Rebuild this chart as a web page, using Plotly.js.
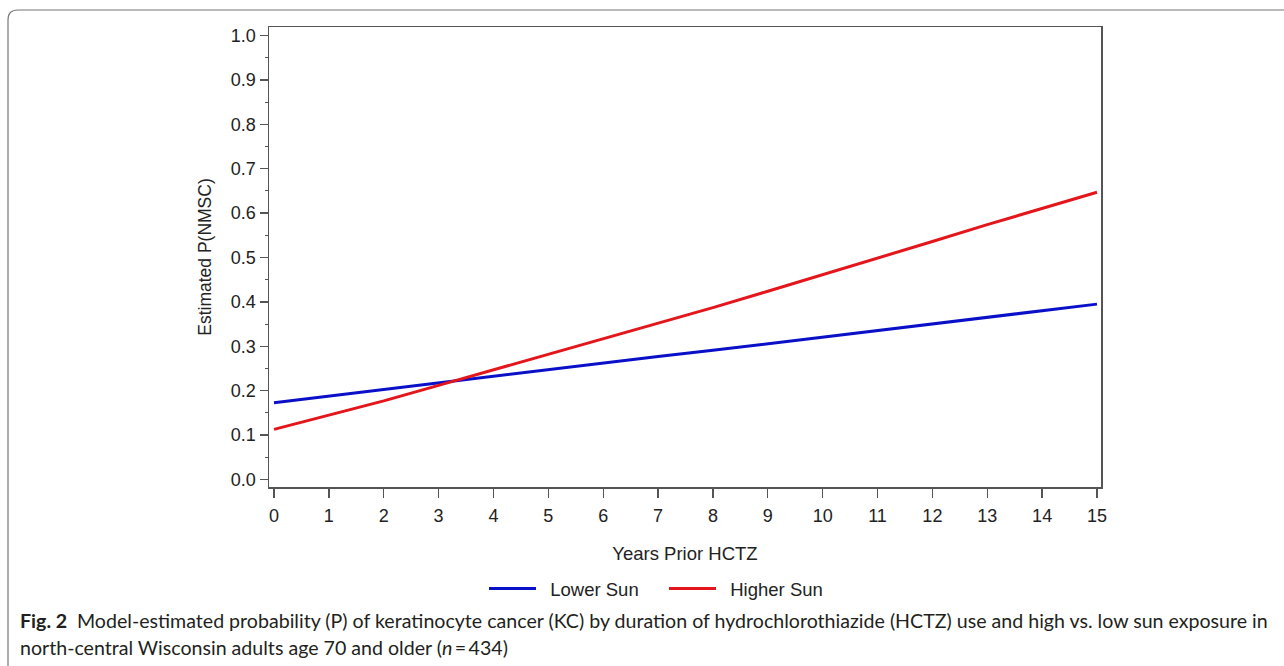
<!DOCTYPE html>
<html>
<head>
<meta charset="utf-8">
<script src="https://cdn.plot.ly/plotly-3.0.1.min.js"></script>
<style>
  html, body { margin: 0; padding: 0; background: #ffffff; }
  #chart { width: 1284px; height: 666px; }
</style>
</head>
<body>
<div id="chart"></div>
<script>
// Data
const years = [0, 1, 2, 3, 4, 5, 6, 7, 8, 9, 10, 11, 12, 13, 14, 15];
const lowerSun = [0.173, 0.188, 0.203, 0.217, 0.232, 0.247, 0.262, 0.277, 0.291, 0.306, 0.321, 0.336, 0.351, 0.365, 0.380, 0.395];
const higherSun = [0.113, 0.145, 0.177, 0.212, 0.247, 0.281, 0.316, 0.351, 0.387, 0.424, 0.461, 0.499, 0.536, 0.574, 0.611, 0.647];
const seriesNames = ['Lower Sun', 'Higher Sun'];
const xTitle = 'Years Prior HCTZ';
const yTitle = 'Estimated P(NMSC)';
const captionBold = 'Fig. 2';
const captionLine1 = 'Model-estimated probability (P) of keratinocyte cancer (KC) by duration of hydrochlorothiazide (HCTZ) use and high vs. low sun exposure in';
const captionLine2 = 'north-central Wisconsin adults age 70 and older (<i>n</i>\u2009=\u2009434)';

// Plot area in pixels
const W = 1284, H = 666;
const L = 269, R = 1101, T = 27, B = 487;
const pw = R - L, ph = B - T;
const px = v => (v - L) / pw;
const py = v => (B - v) / ph;

const textColor = '#222222';
const FAM = 'Liberation Sans, Arial, sans-serif';
const axisFont = { family: FAM, size: 18, color: textColor };

const traces = [
  { x: years, y: lowerSun, name: '\u2002' + seriesNames[0], type: 'scatter', mode: 'lines',
    line: { color: '#0a10c8', width: 3 } },
  { x: years, y: higherSun, name: '\u2002' + seriesNames[1], type: 'scatter', mode: 'lines',
    line: { color: '#e3161b', width: 3 } }
];

// outer rounded frame (decoration)
const fx0 = px(8), fy0 = py(10), fx1 = px(1300), fy1 = py(680);
const rX = 10 / pw, rY = 10 / ph;
const framePath = `M ${fx1},${fy0} L ${fx0 + rX},${fy0} Q ${fx0},${fy0} ${fx0},${fy0 - rY} L ${fx0},${fy1}`;

const layout = {
  width: W, height: H,
  margin: { l: L, r: W - R, t: T, b: H - B, pad: 0 },
  paper_bgcolor: '#ffffff', plot_bgcolor: '#ffffff',
  font: axisFont,
  showlegend: true,
  legend: {
    orientation: 'h', x: px(484), y: py(589), xanchor: 'left', yanchor: 'middle',
    font: { family: FAM, size: 18.5, color: textColor },
    itemwidth: 47, entrywidth: 118, entrywidthmode: 'pixels',
    tracegroupgap: 0, bgcolor: 'rgba(0,0,0,0)'
  },
  xaxis: {
    range: [-0.091, 15.073], tick0: 0, dtick: 1, tickmode: 'linear',
    showgrid: false, zeroline: false,
    showline: true, mirror: true, linecolor: '#555555', linewidth: 1.5,
    ticks: 'outside', ticklen: 9, tickwidth: 1.3, tickcolor: '#555555',
    tickfont: axisFont, ticklabelstandoff: 3,
    title: { text: xTitle, font: { family: FAM, size: 18.5, color: textColor }, standoff: 22 }
  },
  yaxis: {
    range: [-0.0169, 1.0192], tick0: 0, dtick: 0.1, tickmode: 'linear', tickformat: '.1f',
    showgrid: false, zeroline: false,
    showline: true, mirror: true, linecolor: '#555555', linewidth: 1.5,
    ticks: 'outside', ticklen: 8, tickwidth: 1.3, tickcolor: '#555555',
    tickfont: axisFont,
    minor: { dtick: 0.05, tick0: 0, ticks: 'outside', ticklen: 3, tickwidth: 1, tickcolor: '#555555', showgrid: false },
    title: { text: yTitle, font: { family: FAM, size: 17.5, color: textColor }, standoff: 14 }
  },
  shapes: [
    { type: 'path', xref: 'paper', yref: 'paper', path: framePath,
      line: { color: '#777777', width: 1.2 }, layer: 'above' }
  ],
  annotations: [
    { xref: 'paper', yref: 'paper', x: px(18), y: py(621), xanchor: 'left', yanchor: 'middle',
      showarrow: false, align: 'left',
      text: '<b>' + captionBold + '</b>\u2002' + captionLine1,
      font: { family: 'Lato, Open Sans, sans-serif', size: 19.6, color: '#231f20' } },
    { xref: 'paper', yref: 'paper', x: px(18), y: py(647), xanchor: 'left', yanchor: 'middle',
      showarrow: false, align: 'left',
      text: captionLine2,
      font: { family: 'Lato, Open Sans, sans-serif', size: 19.6, color: '#231f20' } }
  ]
};

Plotly.newPlot('chart', traces, layout, { displayModeBar: false, staticPlot: true });
</script>
</body>
</html>
